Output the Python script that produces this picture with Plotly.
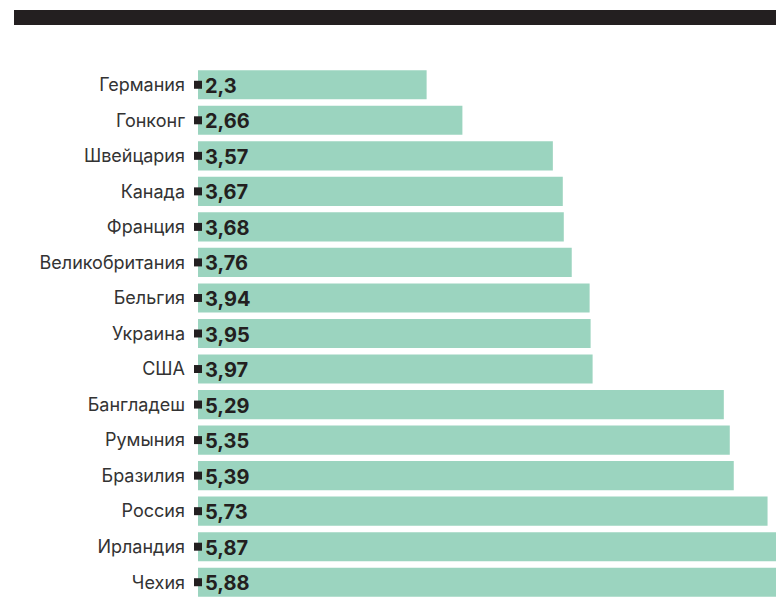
import plotly.graph_objects as go

countries = ["Германия", "Гонконг", "Швейцария", "Канада", "Франция", "Великобритания",
             "Бельгия", "Украина", "США", "Бангладеш", "Румыния", "Бразилия", "Россия",
             "Ирландия", "Чехия"]
values = [2.3, 2.66, 3.57, 3.67, 3.68, 3.76, 3.94, 3.95, 3.97, 5.29, 5.35, 5.39, 5.73, 5.87, 5.88]
labels = [f"{v:g}".replace(".", ",") for v in values]

BAR = "#9bd4bf"
DARK = "#231f20"

fig = go.Figure()
fig.add_trace(go.Bar(
    x=values, y=countries, orientation="h",
    marker=dict(color=BAR, line=dict(width=0)),
    hoverinfo="skip", cliponaxis=True,
))
fig.add_trace(go.Scatter(
    x=[0] * len(countries), y=countries, mode="markers",
    marker=dict(symbol="square", size=8, color=DARK, line=dict(width=0)),
    cliponaxis=False, hoverinfo="skip",
))

for c, t in zip(countries, labels):
    fig.add_annotation(x=0, y=c, xref="x", yref="y", text=f"<b>{t}</b>",
                       showarrow=False, xanchor="left", yanchor="middle", xshift=5, yshift=-1,
                       font=dict(family="Inter", size=20, color=DARK))

fig.add_shape(type="rect", xref="paper", yref="paper",
              x0=(14 - 198) / 578, x1=1.0, y0=(600 - 25) / 533, y1=(600 - 10) / 533,
              fillcolor=DARK, line=dict(width=0), layer="above")

fig.update_layout(
    width=776, height=608,
    margin=dict(l=198, r=0, t=67, b=8, autoexpand=False),
    paper_bgcolor="white", plot_bgcolor="white",
    showlegend=False, bargap=0.18,
    xaxis=dict(range=[0, 5.815], visible=False, fixedrange=True),
    yaxis=dict(type="category", range=[len(countries) - 0.5, -0.5], autorange=False,
               showgrid=False, zeroline=False, showline=False, fixedrange=True,
               ticks="", ticklabelstandoff=12, automargin=False,
               tickfont=dict(family="Inter", size=18, color="#333333")),
)

fig.write_html("out.html", config={"displayModeBar": False},
               post_script="document.body.style.margin='0';document.body.style.overflow='hidden';")
